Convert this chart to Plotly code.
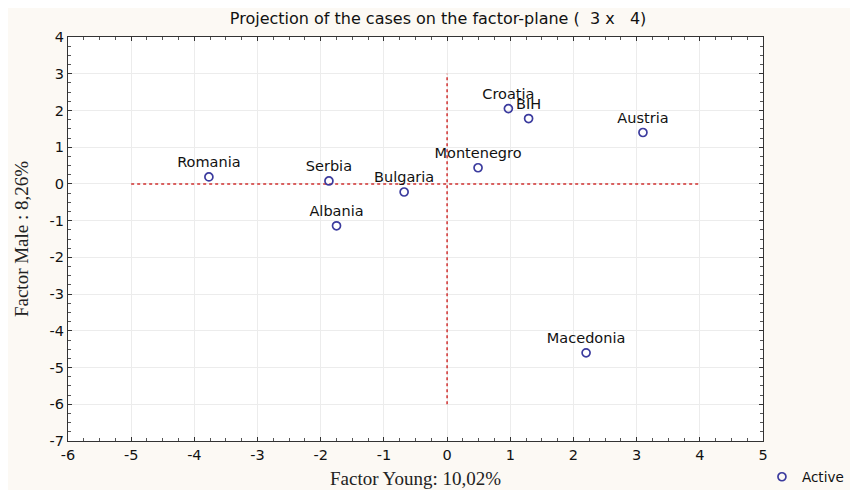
import plotly.graph_objects as go

countries = ["Romania", "Serbia", "Bulgaria", "Albania", "Montenegro", "Croatia", "BIH", "Austria", "Macedonia"]
factor_young = [-3.77, -1.87, -0.68, -1.75, 0.49, 0.97, 1.29, 3.10, 2.20]
factor_male = [0.19, 0.08, -0.22, -1.14, 0.44, 2.05, 1.78, 1.40, -4.60]

hline_x = [-5, 4]
hline_y = [0, 0]
vline_x = [0, 0]
vline_y = [-6, 3]

x_ticks = [-6, -5, -4, -3, -2, -1, 0, 1, 2, 3, 4, 5]
y_ticks = [4, 3, 2, 1, 0, -1, -2, -3, -4, -5, -6, -7]

red = "#d0302f"
blue = "#3b3b9e"
sans = "DejaVu Sans, Arial, sans-serif"
serif = "Liberation Serif, Times New Roman, serif"

fig = go.Figure()
fig.add_trace(go.Scatter(x=hline_x, y=hline_y, mode="lines",
                         line=dict(color=red, width=1.5, dash="dot"), showlegend=False, hoverinfo="skip"))
fig.add_trace(go.Scatter(x=vline_x, y=vline_y, mode="lines",
                         line=dict(color=red, width=1.5, dash="dot"), showlegend=False, hoverinfo="skip"))
fig.add_trace(go.Scatter(
    x=factor_young, y=factor_male, mode="markers+text", text=countries,
    textposition="top center", textfont=dict(family=sans, size=14.5, color="#111111"),
    marker=dict(symbol="circle-open", size=8, color=blue, line=dict(width=1.7, color=blue)),
    name="Active", showlegend=True))

axis_common = dict(
    showline=True, linecolor="#333333", linewidth=1.2, mirror="ticks",
    ticks="inside", ticklen=4, tickcolor="#333333", tickwidth=1.2,
    showgrid=True, gridcolor="#ececec", gridwidth=1, zeroline=False,
    tickfont=dict(family=sans, size=14.5, color="#111111"),
    minor=dict(ticks="inside", ticklen=3, tickcolor="#555555", dtick=0.25, showgrid=False),
    automargin=False,
)

fig.update_layout(
    width=850, height=482,
    paper_bgcolor="#fcf9f4", plot_bgcolor="#ffffff",
    margin=dict(l=60, r=95, t=29, b=49, autoexpand=False),
    title=dict(text="Projection of the cases on the factor-plane (  3 x   4)", x=0.506, xanchor="center",
               xref="container", yref="container",
               y=0.979, yanchor="middle", font=dict(family=sans, size=16, color="#111111")),
    xaxis=dict(range=[-6, 5], tickvals=x_ticks, ticktext=[str(v) for v in x_ticks],
               title=dict(text="Factor Young: 10,02%", font=dict(family=serif, size=19, color="#222222"), standoff=10),
               **axis_common),
    yaxis=dict(range=[-7, 4], tickvals=y_ticks, ticktext=[str(v) for v in y_ticks],
               title=dict(text="Factor Male : 8,26%", font=dict(family=serif, size=19, color="#222222"), standoff=15),
               **axis_common),
    legend=dict(xref="container", yref="container", x=0.887, y=0.027, xanchor="left", yanchor="middle",
                bgcolor="rgba(0,0,0,0)", itemwidth=30, font=dict(family=sans, size=13.5, color="#111111")),
    showlegend=True,
)

fig.write_html("out.html")
